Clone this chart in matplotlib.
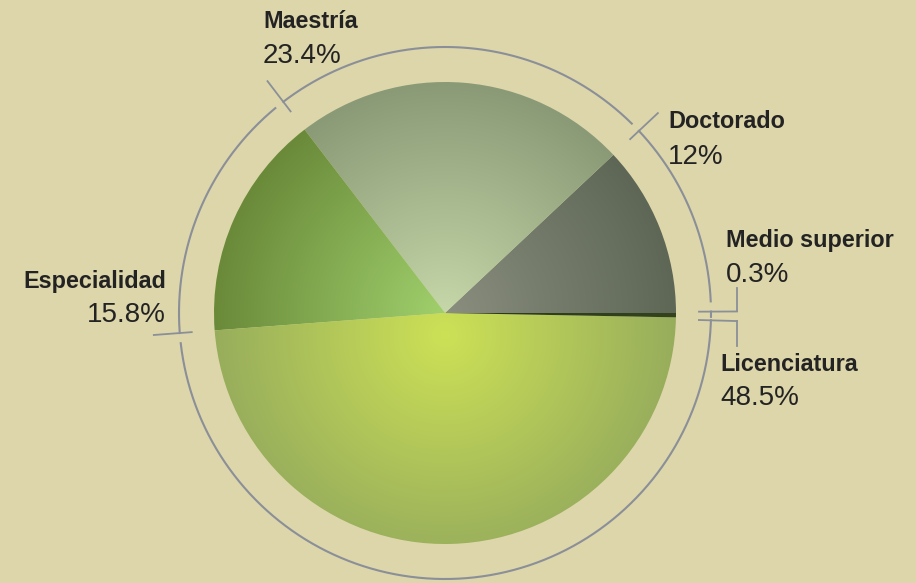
import numpy as np
import matplotlib.pyplot as plt

# datos (porcentaje por nivel de estudios)
categories = ["Doctorado", "Maestría", "Especialidad", "Licenciatura", "Medio superior"]
values = [12.0, 23.4, 15.8, 48.5, 0.3]
value_labels = ["12%", "23.4%", "15.8%", "48.5%", "0.3%"]

# colores: centro -> borde del degradado radial
inner_colors = ["#8a8e7e", "#c6d7a9", "#a0d06c", "#cde156", "#2a3818"]
outer_colors = ["#5e6756", "#8a9a76", "#6a8a3a", "#97ad5c", "#34431e"]

BG = "#ddd6aa"
RING = "#8b8f98"
TXT = "#232323"

W, H = 916, 583
cx, cy = 445, H - 313
R = 231
R_RING = 266


def hex_rgb(c):
    c = c.lstrip("#")
    return np.array([int(c[i:i + 2], 16) / 255 for i in (0, 2, 4)])


fig = plt.figure(figsize=(W / 100, H / 100), dpi=100, facecolor=BG)
ax = fig.add_axes([0, 0, 1, 1])
ax.set_facecolor(BG)

wedges, _ = ax.pie(values, startangle=0, counterclock=True, center=(cx, cy),
                   radius=R, wedgeprops=dict(linewidth=0))
ax.set_xlim(0, W)
ax.set_ylim(0, H)
ax.set_aspect("equal")
ax.axis("off")

# degradado radial dentro de cada sector
xs = np.linspace(cx - R, cx + R, 400)
ys = np.linspace(cy - R, cy + R, 400)
gx, gy = np.meshgrid(xs, ys)
for i, w in enumerate(wedges):
    w.set_facecolor("none")
    gcy = cy - 22 if categories[i] == "Licenciatura" else cy
    t = np.clip(np.hypot(gx - cx, gy - gcy) / R, 0, 1)[..., None]
    img = hex_rgb(inner_colors[i]) * (1 - t) + hex_rgb(outer_colors[i]) * t
    im = ax.imshow(img, extent=(cx - R, cx + R, cy - R, cy + R), origin="lower",
                   interpolation="bilinear", zorder=1)
    im.set_clip_path(w)

# anillo exterior con marcas en los límites de cada sector
bounds = np.concatenate([[0], np.cumsum(values)]) * 3.6
ticks = bounds.copy()
ticks[0] += 0.3
ticks[-1] += 0.3
ticks[-2] -= 0.5
for i in range(len(values)):
    a0, a1 = ticks[i], ticks[i + 1]
    if a1 < a0:
        a1 += 360
    gap = min(2.2, 0.4 * (a1 - a0))
    th = np.radians(np.linspace(a0 + gap, a1, 200))
    ax.plot(cx + R_RING * np.cos(th), cy + R_RING * np.sin(th), color=RING, lw=1.5, zorder=2)

for a in ticks[:-1]:
    th = np.radians(a)
    ax.plot([cx + 254 * np.cos(th), cx + 292 * np.cos(th)],
            [cy + 254 * np.sin(th), cy + 292 * np.sin(th)], color=RING, lw=1.3, zorder=2)

# conectores hacia las etiquetas de la derecha
th_up, th_dn = np.radians(ticks[0]), np.radians(ticks[-2])
x_up, y_up = cx + 292 * np.cos(th_up), cy + 292 * np.sin(th_up)
x_dn, y_dn = cx + 292 * np.cos(th_dn), cy + 292 * np.sin(th_dn)
ax.plot([x_up, x_up], [y_up, H - 288], color=RING, lw=1.3)
ax.plot([x_dn, x_dn], [y_dn, H - 346], color=RING, lw=1.3)

# etiquetas (x, línea base del nombre, línea base del porcentaje, alineación)
label_pos = {
    "Doctorado": (668, 128, 164, "left"),
    "Maestría": (263, 28, 63, "left"),
    "Especialidad": (166, 288, 322, "right"),
    "Licenciatura": (720, 371, 405, "left"),
    "Medio superior": (726, 247, 282, "left"),
}
for name, pct in zip(categories, value_labels):
    x, yb1, yb2, ha = label_pos[name]
    ax.text(x, H - yb1, name, ha=ha, va="baseline", fontsize=16.8, fontweight="bold",
            color=TXT, family="Liberation Sans")
    ax.text(x, H - yb2, pct, ha=ha, va="baseline", fontsize=20, color=TXT,
            family="Liberation Sans")

fig.savefig("out.png", dpi=100, facecolor=BG)
